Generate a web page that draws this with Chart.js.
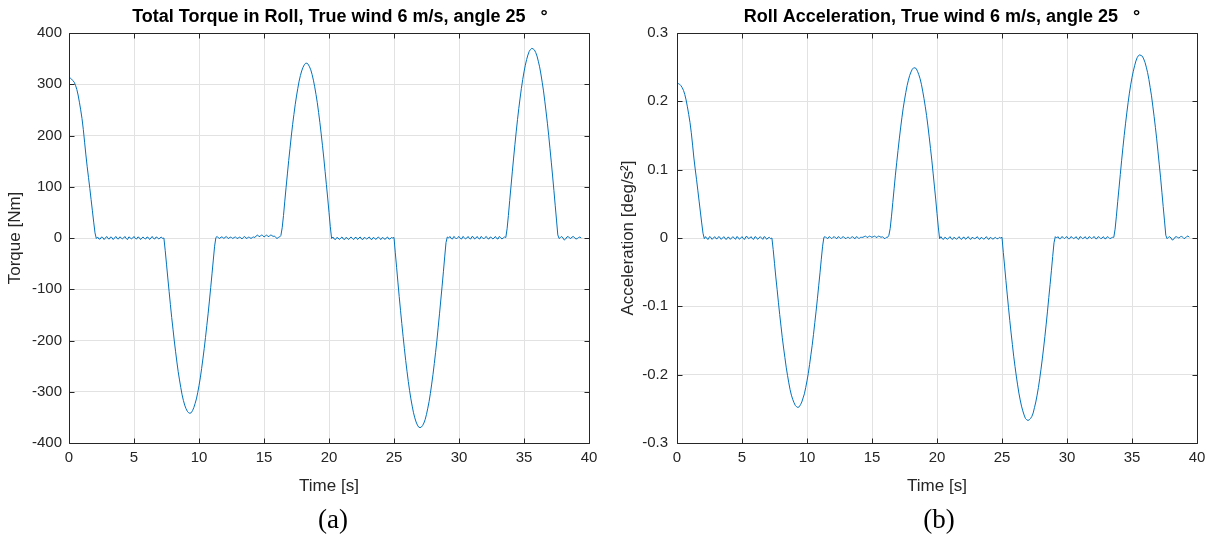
<!DOCTYPE html>
<html><head><meta charset="utf-8">
<script src="https://cdn.jsdelivr.net/npm/chart.js@4.4.1/dist/chart.umd.min.js"></script>
<style>
html,body{margin:0;padding:0;background:#fff;overflow:hidden;width:1216px;height:536px;}
#wrap{position:relative;width:1216px;height:536px;overflow:hidden;}
canvas{position:absolute;top:0;}
#c1{left:0;width:680px;height:536px;}
#c2{left:608px;width:668px;height:536px;}
.cap{position:absolute;top:503px;font-family:'Liberation Serif','DejaVu Serif',serif;font-size:27px;color:#000;transform:translateX(-50%);line-height:32px;}
</style></head><body>
<div id="wrap">
<canvas id="c1" width="680" height="536"></canvas>
<canvas id="c2" width="668" height="536"></canvas>
<div class="cap" style="left:333px">(a)</div>
<div class="cap" style="left:939px">(b)</div>
</div>
<script>
const time = [
0,0.1,0.2,0.3,0.4,0.5,0.6,0.7,0.8,0.9,1,1.1,1.2,1.3,1.4,1.5,1.6,1.7,1.8,1.9,
2,2.1,2.2,2.3,2.4,2.5,2.6,2.7,2.8,2.9,3,3.1,3.2,3.3,3.4,3.5,3.6,3.7,3.8,3.9,
4,4.1,4.2,4.3,4.4,4.5,4.6,4.7,4.8,4.9,5,5.1,5.2,5.3,5.4,5.5,5.6,5.7,5.8,5.9,
6,6.1,6.2,6.3,6.4,6.5,6.6,6.7,6.8,6.9,7,7.1,7.2,7.3,7.4,7.5,7.6,7.7,7.8,7.9,
8,8.1,8.2,8.3,8.4,8.5,8.6,8.7,8.8,8.9,9,9.1,9.2,9.3,9.4,9.5,9.6,9.7,9.8,9.9,
10,10.1,10.2,10.3,10.4,10.5,10.6,10.7,10.8,10.9,11,11.1,11.2,11.3,11.4,11.5,11.6,11.7,11.8,11.9,
12,12.1,12.2,12.3,12.4,12.5,12.6,12.7,12.8,12.9,13,13.1,13.2,13.3,13.4,13.5,13.6,13.7,13.8,13.9,
14,14.1,14.2,14.3,14.4,14.5,14.6,14.7,14.8,14.9,15,15.1,15.2,15.3,15.4,15.5,15.6,15.7,15.8,15.9,
16,16.1,16.2,16.3,16.4,16.5,16.6,16.7,16.8,16.9,17,17.1,17.2,17.3,17.4,17.5,17.6,17.7,17.8,17.9,
18,18.1,18.2,18.3,18.4,18.5,18.6,18.7,18.8,18.9,19,19.1,19.2,19.3,19.4,19.5,19.6,19.7,19.8,19.9,
20,20.1,20.2,20.3,20.4,20.5,20.6,20.7,20.8,20.9,21,21.1,21.2,21.3,21.4,21.5,21.6,21.7,21.8,21.9,
22,22.1,22.2,22.3,22.4,22.5,22.6,22.7,22.8,22.9,23,23.1,23.2,23.3,23.4,23.5,23.6,23.7,23.8,23.9,
24,24.1,24.2,24.3,24.4,24.5,24.6,24.7,24.8,24.9,25,25.1,25.2,25.3,25.4,25.5,25.6,25.7,25.8,25.9,
26,26.1,26.2,26.3,26.4,26.5,26.6,26.7,26.8,26.9,27,27.1,27.2,27.3,27.4,27.5,27.6,27.7,27.8,27.9,
28,28.1,28.2,28.3,28.4,28.5,28.6,28.7,28.8,28.9,29,29.1,29.2,29.3,29.4,29.5,29.6,29.7,29.8,29.9,
30,30.1,30.2,30.3,30.4,30.5,30.6,30.7,30.8,30.9,31,31.1,31.2,31.3,31.4,31.5,31.6,31.7,31.8,31.9,
32,32.1,32.2,32.3,32.4,32.5,32.6,32.7,32.8,32.9,33,33.1,33.2,33.3,33.4,33.5,33.6,33.7,33.8,33.9,
34,34.1,34.2,34.3,34.4,34.5,34.6,34.7,34.8,34.9,35,35.1,35.2,35.3,35.4,35.5,35.6,35.7,35.8,35.9,
36,36.1,36.2,36.3,36.4,36.5,36.6,36.7,36.8,36.9,37,37.1,37.2,37.3,37.4,37.5,37.6,37.7,37.8,37.9,
38,38.1,38.2,38.3,38.4,38.5,38.6,38.7,38.8,38.9,39,39.1,39.2,39.3,39.4
];

const torque = [
313,312,310,307,304,298,290,279,265,250,233,212,187,162,139,118,97,75,53,31,10,-1,
2,-2,-2,2,1,-3,0, 3,-1,-2,2,1,-3,0, 3,-1,-2,2,1,-2,0, 3,-1,-3,2,1,-2,0, 3,-1,-2,2,1,-3,0, 2,-1,-2,2,1,-3,0, 3,-1,-2,2,1,-2,0, 2,-1,0,
-24,-51,-78,-104,-130,-155,-178,-201,-222,-242,-261,-277,-292,-306,-317,-326,-333,-338,-341,-342,-341,-337,-331,-323,-314,-302,-288,-273,-255,-236,-216,-194,-171,-148,-123,-97,-70,-43,-16,
1,3,0,-1,2,2,-1, 1,3,0,-1,2,1,-1, 1,2,0,-1,2,1,-2, 1,3,0,-1,2,1,-1, 1,2,1, 4,6,3,3,6,5,2,4,6,3,3,6,5,3,4, 1,-1,1,2,5,
20,44,72,99,125,151,175,199,221,241,260,277,292,306,317,326,333,338,341,341,339,334,328,319,308,295,280,264,245,225,203,180,156,130,104,78,50,22,
-1,2,-2,-3,1,0,-3, 0,2,-2,-3,1,0,-3, 0,2,-1,-3,1,1,-3, 0,2,-2,-3,1,0,-2, 0,2,-2,-3,1,0,-3, 0,2,-1,-3,1,0,-3, 0,2,-2,-2,1,0,1,
-29,-57,-86,-114,-141,-167,-192,-216,-239,-260,-280,-298,-314,-328,-341,-351,-359,-365,-369,-370,-369,-366,-361,-354,-344,-332,-319,-303,-285,-266,-245,-223,-200,-174,-148,-121,-94,-66,-37,-9,
2,0,3,-1,-2,3,1, -2,1,3,-1,-2,3,1, -2,0,3,-1,-2,3,2, -2,0,3,-1,-2,3,1, -2,1,3,-1,-2,2,1, -2,0,3,-1,-2,3,1, -2,0,2,1,
18,44,73,101,129,156,182,207,231,253,273,292,309,324,337,348,357,364,368,370,369,367,362,355,345,334,320,304,287,267,246,224,200,174,148,121,93,64,35,6,
-1,1,3,0,-4,-2,2,3,0,-1,2,3,0,-2,-1,1,2,0
];

const accel = [
0.227,0.226,0.225,0.223,0.220,0.216,0.210,0.202,0.192,0.181,0.169,0.154,0.136,0.117,0.101,0.086,0.070,0.054,0.038,0.022,0.007,-0.001,
0.002,-0.001,-0.002,0.002,0.001,-0.002,0, 0.002,-0.001,-0.001,0.002,0.001,-0.002,0, 0.002,-0.001,-0.002,0.001,0.001,-0.002,0, 0.002,0,-0.002,0.002,0.001,-0.002,0, 0.002,-0.001,-0.002,0.002,0.002,-0.001,0, 0.002,-0.001,-0.002,0.002,0.001,-0.002,0, 0.002,0,-0.002,0.002,0.001,-0.002,0, 0.001,-0.001,0,
-0.017,-0.037,-0.057,-0.075,-0.094,-0.112,-0.129,-0.146,-0.161,-0.175,-0.189,-0.201,-0.212,-0.222,-0.230,-0.236,-0.241,-0.245,-0.247,-0.248,-0.247,-0.244,-0.240,-0.234,-0.228,-0.219,-0.209,-0.198,-0.185,-0.171,-0.157,-0.141,-0.124,-0.107,-0.089,-0.070,-0.051,-0.031,-0.012,
0.001,0.002,0,-0.001,0.002,0.001,-0.001, 0.001,0.002,0,-0.001,0.002,0.001,-0.001, 0.001,0.002,0,-0.001,0.001,0.001,-0.001, 0.001,0.002,0,-0.001,0.002,0.001,-0.001, 0.001,0.001,0.001, 0.002,0.003,0.001,0.001,0.003,0.002,0.001,0.002,0.003,0.001,0.001,0.003,0.002,0.001,0.002, 0,-0.001,0.001,0.001,0.004,
0.014,0.032,0.052,0.072,0.092,0.110,0.128,0.145,0.161,0.176,0.190,0.202,0.213,0.223,0.231,0.238,0.243,0.247,0.249,0.249,0.248,0.244,0.239,0.233,0.225,0.215,0.204,0.192,0.179,0.164,0.148,0.131,0.114,0.095,0.076,0.057,0.036,0.016,
-0.001,0.002,-0.001,-0.002,0.001,0,-0.002, 0,0.002,-0.001,-0.002,0.001,0,-0.002, 0,0.002,-0.001,-0.002,0.001,0.001,-0.002, 0,0.002,-0.001,-0.002,0.001,0,-0.001, 0,0.002,-0.001,-0.002,0.001,0,-0.002, 0,0.002,-0.001,-0.002,0.001,0,-0.002, 0,0.001,-0.001,-0.001,0.001,0,0.001,
-0.021,-0.041,-0.062,-0.082,-0.102,-0.121,-0.139,-0.156,-0.173,-0.188,-0.202,-0.215,-0.227,-0.237,-0.246,-0.253,-0.259,-0.264,-0.266,-0.267,-0.266,-0.264,-0.261,-0.256,-0.248,-0.240,-0.230,-0.219,-0.206,-0.192,-0.177,-0.161,-0.144,-0.126,-0.107,-0.087,-0.068,-0.048,-0.027,-0.007,
0.002,0,0.002,-0.001,-0.001,0.002,0.001, -0.001,0.001,0.002,-0.001,-0.001,0.002,0.001, -0.001,0,0.002,-0.001,-0.002,0.002,0.001, -0.001,0,0.002,-0.001,-0.001,0.002,0.001, -0.001,0.001,0.002,-0.001,-0.001,0.002,0.001, -0.001,0,0.002,-0.001,-0.001,0.002,0.001, -0.001,0,0.001,0.001,
0.013,0.032,0.053,0.073,0.093,0.113,0.132,0.150,0.167,0.183,0.198,0.212,0.224,0.235,0.244,0.252,0.259,0.264,0.267,0.268,0.267,0.266,0.262,0.257,0.250,0.242,0.232,0.220,0.208,0.193,0.178,0.162,0.145,0.126,0.107,0.088,0.067,0.046,0.025,0.004,
-0.001,0.001,0.002,0,-0.003,-0.002,0.001,0.002,0.001,0,0.001,0.003,0.001,-0.001,0,0.002,0.003,0.001
];

const xTicks = [0,5,10,15,20,25,30,35,40];
const torqueTicks = [-400,-300,-200,-100,0,100,200,300,400];
const accelTicks = [-0.3,-0.2,-0.1,0,0.1,0.2,0.3];
const accelTickLabels = ['-0.3','-0.2','-0.1','0','0.1','0.2','0.3'];

Chart.defaults.font.family = "'Liberation Sans', Arial, Helvetica, sans-serif";
Chart.defaults.color = '#262626';

const boxPlugin = {
  id: 'matlabBox',
  afterDatasetsDraw(chart) {
    const {ctx, chartArea: a, scales: {x, y}} = chart;
    const al = v => Math.round(v) + 0.5;
    const L = al(a.left), R = al(a.right), T = al(a.top), B = al(a.bottom);
    ctx.save();
    ctx.strokeStyle = '#262626';
    ctx.lineWidth = 1;
    ctx.beginPath();
    ctx.rect(L, T, R - L, B - T);
    const tl = 5;
    x.ticks.forEach(t => {
      const px = al(x.getPixelForValue(t.value));
      ctx.moveTo(px, B); ctx.lineTo(px, B - tl);
      ctx.moveTo(px, T); ctx.lineTo(px, T + tl);
    });
    y.ticks.forEach(t => {
      const py = al(y.getPixelForValue(t.value));
      ctx.moveTo(L, py); ctx.lineTo(L + tl, py);
      ctx.moveTo(R, py); ctx.lineTo(R - tl, py);
    });
    ctx.stroke();
    ctx.restore();
  }
};

function makeChart(id, values, yTicks, yLabels, yMin, yMax, title, yTitle, rightSpace, yTitlePad, yTickPad) {
  const data = time.map((t, i) => ({x: t, y: values[i]}));
  return new Chart(document.getElementById(id), {
    type: 'line',
    data: {datasets: [{data, yAxisID: 'y', borderColor: '#0072BD', borderWidth: 1, pointRadius: 0, fill: false, tension: 0}]},
    plugins: [boxPlugin],
    options: {
      responsive: false, animation: false, devicePixelRatio: 1, events: [],
      layout: {padding: {left: 0, right: 0, top: 0, bottom: 38}},
      plugins: {
        legend: {display: false}, tooltip: {enabled: false},
        title: {display: true, text: title, color: '#000', font: {size: 18, weight: 'bold'}, padding: {top: 6.2, bottom: 5.2}}
      },
      scales: {
        x: {
          type: 'linear', min: 0, max: 40,
          afterBuildTicks: s => { s.ticks = xTicks.map(v => ({value: v})); },
          afterFit: s => { s.height = 55; },
          grid: {color: '#e2e2e2', drawTicks: false, lineWidth: 1},
          border: {display: false},
          ticks: {padding: 6, color: '#262626', font: {size: 15}, maxRotation: 0, autoSkip: false},
          title: {display: true, text: 'Time [s]', color: '#262626', font: {size: 17}, padding: {top: 0, bottom: 1.8}}
        },
        y: {
          type: 'linear', position: 'left', min: yMin, max: yMax,
          afterBuildTicks: s => { s.ticks = yTicks.map(v => ({value: v})); },
          afterFit: s => { s.width = 69; },
          grid: {color: '#e2e2e2', drawTicks: false, lineWidth: 1},
          border: {display: false},
          ticks: {padding: yTickPad, color: '#262626', font: {size: 15}, autoSkip: false,
                  callback: (v, i) => yLabels[i]},
          title: {display: true, text: yTitle, color: '#262626', font: {size: 17}, padding: {top: yTitlePad, bottom: 0}}
        },
        ySpace: {
          type: 'linear', position: 'right', display: true, min: 0, max: 1,
          afterFit: s => { s.width = rightSpace; },
          grid: {display: false, drawTicks: false},
          border: {display: false},
          ticks: {display: false}
        }
      }
    }
  });
}

makeChart('c1', torque, torqueTicks, torqueTicks.map(String), -400, 400,
  'Total Torque in Roll, True wind 6 m/s, angle 25   °', 'Torque [Nm]', 91, 4.8, 7);
makeChart('c2', accel, accelTicks, accelTickLabels, -0.3, 0.3,
  'Roll Acceleration, True wind 6 m/s, angle 25   °', 'Acceleration [deg/s²]', 79, 9.8, 9);
</script>
</body></html>
